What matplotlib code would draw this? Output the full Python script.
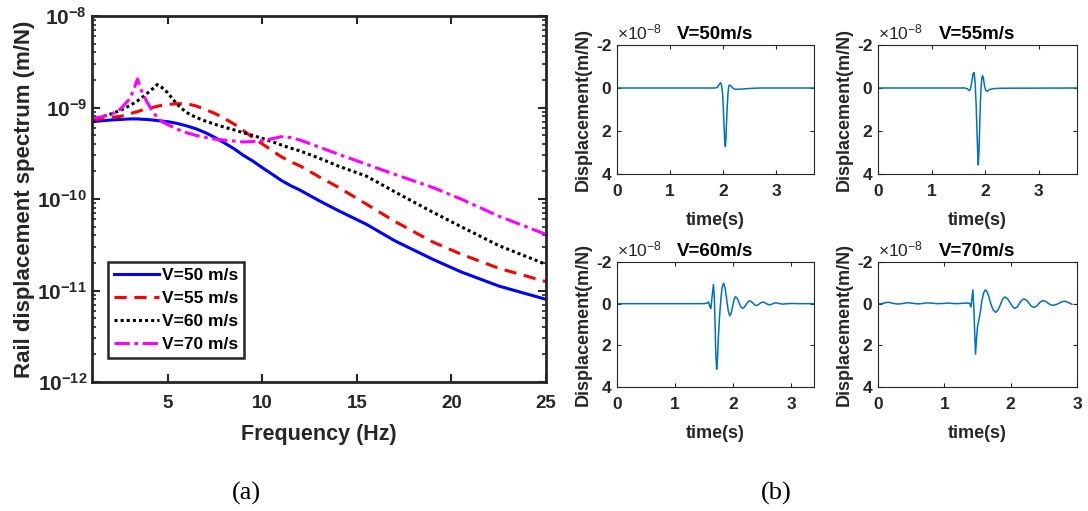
import matplotlib.pyplot as plt
import numpy as np

plt.rcParams['font.family'] = 'Liberation Sans'
plt.rcParams['mathtext.fontset'] = 'custom'
plt.rcParams['mathtext.rm'] = 'Liberation Sans'
plt.rcParams['mathtext.bf'] = 'Liberation Sans:bold'
plt.rcParams['mathtext.it'] = 'Liberation Sans:italic'

# (a) rail displacement spectrum, values in 1e-10 m/N
freq = [1, 1.5, 2, 2.5, 3, 3.2, 3.4, 3.6, 3.9, 4.2, 4.45, 4.7, 5, 5.5, 6, 6.5, 7, 7.5,
        8, 8.5, 9, 9.5, 10, 10.5, 11, 11.5, 12, 13, 14, 15.5, 17, 19, 20.5, 22.5, 25]
spec50 = [7.0, 7.15, 7.3, 7.4, 7.5, 7.5, 7.5, 7.45, 7.4, 7.3, 7.2, 7.1, 7.0, 6.7, 6.3,
          5.85, 5.3, 4.7, 4.1, 3.55, 3.0, 2.6, 2.2, 1.88, 1.6, 1.4, 1.25, 0.96, 0.75,
          0.53, 0.35, 0.22, 0.16, 0.112, 0.08]
spec55 = [7.3, 7.5, 7.8, 8.0, 8.5, 8.8, 9.0, 9.3, 9.7, 10.0, 10.3, 10.6, 10.8, 11.0,
          11.0, 10.4, 9.5, 8.6, 7.6, 6.6, 5.6, 4.7, 4.0, 3.4, 2.9, 2.55, 2.3, 1.75, 1.35,
          0.88, 0.57, 0.34, 0.25, 0.175, 0.125]
spec60 = [7.3, 7.9, 8.5, 9.3, 10.5, 11.1, 11.8, 12.6, 14.2, 16.0, 17.8, 16.5, 14.5, 10.8,
          8.8, 7.8, 7.1, 6.55, 6.1, 5.7, 5.3, 4.95, 4.6, 4.25, 3.9, 3.6, 3.35, 2.8, 2.3,
          1.78, 1.2, 0.72, 0.5, 0.31, 0.193]
spec70 = [7.6, 7.9, 8.4, 9.6, 12.5, 15.5, 20.5, 15.5, 11.5, 9.0, 7.8, 7.0, 6.5, 5.8, 5.3,
          4.95, 4.7, 4.5, 4.4, 4.3, 4.2, 4.25, 4.35, 4.55, 4.8, 4.7, 4.4, 3.7, 3.1, 2.4,
          1.86, 1.34, 1.0, 0.65, 0.41]
specLabels = ['V=50 m/s', 'V=55 m/s', 'V=60 m/s', 'V=70 m/s']

# (b) time histories, displacement in 1e-8 m/N
t50 = [0, 1.85, 1.89, 1.92, 1.95, 1.97, 1.99, 2.005, 2.02, 2.03, 2.04, 2.05, 2.06, 2.075,
       2.09, 2.105, 2.12, 2.14, 2.17, 2.21, 2.26, 2.35, 2.5, 2.7, 3.71]
d50 = [0, 0, -0.03, -0.15, -0.25, -0.12, 0.3, 1.1, 2.0, 2.5, 2.72, 2.45, 1.8, 0.9,
       0.25, -0.08, -0.14, -0.1, -0.02, 0.05, 0.06, 0.05, 0.02, 0, 0]
t55 = [0, 1.62, 1.67, 1.70, 1.725, 1.75, 1.77, 1.79, 1.81, 1.83, 1.845, 1.86, 1.87, 1.88,
       1.895, 1.91, 1.925, 1.94, 1.95, 1.965, 1.985, 2.01, 2.04, 2.08, 2.15, 2.3, 3.71]
d55 = [0, 0, 0.04, 0.12, 0.05, -0.3, -0.65, -0.72, -0.3, 0.8, 2.0, 3.1, 3.58, 3.1,
       1.9, 0.6, -0.2, -0.52, -0.57, -0.45, -0.1, 0.12, 0.15, 0.07, 0.03, 0.01, 0]
t60 = [0, 1.50, 1.55, 1.575, 1.60, 1.615, 1.635, 1.66, 1.675, 1.69, 1.70, 1.715, 1.73,
       1.745, 1.765, 1.79, 1.81, 1.835, 1.86, 1.8875, 1.915, 1.94, 1.965, 1.99, 2.015,
       2.04, 2.07, 2.10, 2.13, 2.16, 2.19, 2.22, 2.25, 2.28, 2.31, 2.34, 2.37, 2.40,
       2.43, 2.455, 2.48, 2.51, 2.54, 2.57, 2.60, 2.63, 2.66, 2.685, 2.71, 2.74, 2.80,
       2.86, 2.93, 3.0, 3.1, 3.39]
d60 = [0, 0, -0.03, -0.08, 0.15, 0.23, -0.3, -0.92, -0.3, 1.2, 2.4, 3.15, 2.6,
       1.6, 0.6, -0.3, -0.8, -0.98, -0.75, -0.2, 0.35, 0.58, 0.45, 0.12, -0.2,
       -0.34, -0.25, -0.05, 0.15, 0.23, 0.17, 0.05, -0.08, -0.14, -0.1, -0.02, 0.06, 0.09,
       0.05, 0, -0.05, -0.08, -0.05, 0, 0.04, 0.05, 0.03, 0, -0.03, -0.04, 0,
       0.02, 0, -0.01, 0, 0]
t70 = [0, 0.08, 0.15, 0.22, 0.3, 0.38, 0.45, 0.52, 0.6, 0.68, 0.75, 0.82, 0.9, 0.98,
       1.05, 1.12, 1.2, 1.28, 1.36, 1.385, 1.40, 1.415, 1.43, 1.445, 1.46, 1.47, 1.485,
       1.50, 1.525, 1.545, 1.565, 1.59, 1.615, 1.64, 1.67, 1.70, 1.735, 1.775, 1.81,
       1.845, 1.875, 1.91, 1.95, 1.99, 2.03, 2.065, 2.10, 2.13, 2.165, 2.20, 2.24, 2.275,
       2.31, 2.35, 2.385, 2.42, 2.455, 2.49, 2.53, 2.565, 2.60, 2.64, 2.68, 2.73, 2.77,
       2.815, 2.86, 2.925]
d70 = [0.02, -0.02, -0.07, -0.02, 0.02, -0.01, -0.05, -0.02, 0.01, -0.01, -0.04, -0.02,
       0.0, -0.01, -0.03, -0.01, 0.0, -0.02, -0.03, 0.0, 0.15, -0.2, -0.66, 0.2, 1.6,
       2.42, 1.7, 1.1, 0.72, 0.35, -0.12, -0.5, -0.66, -0.6, -0.35, 0.0, 0.3, 0.42, 0.3,
       0.05, -0.2, -0.32, -0.25, -0.05, 0.15, 0.23, 0.16, 0.0, -0.16, -0.23, -0.16, -0.03,
       0.12, 0.18, 0.13, 0.02, -0.1, -0.15, -0.1, -0.02, 0.05, 0.08, 0.05, -0.02, -0.09,
       -0.12, -0.07, 0.03]
timeTitles = ['V=50m/s', 'V=55m/s', 'V=60m/s', 'V=70m/s']
timeMax = [3.71, 3.71, 3.39, 3.0]

gray = '#262626'
W, H = 1088, 511

def pxAxes(fig, x0, y0, x1, y1):
    return fig.add_axes([x0 / W, 1 - y1 / H, (x1 - x0) / W, (y1 - y0) / H])

fig = plt.figure(figsize=(W / 100, H / 100), dpi=100)

# Left panel
ax = pxAxes(fig, 92, 16, 546, 382)
specs = [spec50, spec55, spec60, spec70]
colors = ['#0000ff', '#ff0000', 'black', '#ff00ff']
styles = ['-', (0, (4, 2.5)), (0, (1, 1)), (0, (5, 1.5, 1.2, 1.5))]
for k in range(4):
    ax.plot(freq, np.array(specs[k]) * 1e-10, color=colors[k], lw=2.2, ls=styles[k],
            label=specLabels[k])
ax.set_yscale('log')
ax.set_xlim(1, 25)
ax.set_ylim(1e-12, 1e-8)
ax.set_xticks([5, 10, 15, 20, 25])
ax.set_xticklabels(['5', '10', '15', '20', '25'], fontsize=13.5, fontweight='bold', color=gray)
ax.set_yticks([1e-12, 1e-11, 1e-10, 1e-9, 1e-8])
ax.set_yticklabels([r'$\mathbf{10^{-12}}$', r'$\mathbf{10^{-11}}$', r'$\mathbf{10^{-10}}$',
                    r'$\mathbf{10^{-9}}$', r'$\mathbf{10^{-8}}$'], fontsize=15, color=gray)
ax.yaxis.set_minor_formatter(plt.NullFormatter())
ax.tick_params(which='both', direction='in', top=True, right=True, colors=gray)
ax.tick_params(which='major', length=6, width=1.5)
ax.tick_params(axis='x', which='major', pad=9)
ax.tick_params(which='minor', length=3, width=1.2)
for s in ax.spines.values():
    s.set_linewidth(2)
    s.set_color(gray)
ax.set_xlabel('Frequency (Hz)', fontsize=15.5, fontweight='bold', color=gray, labelpad=9)
ax.set_ylabel('Rail displacement spectrum (m/N)', fontsize=16, fontweight='bold', color=gray,
              labelpad=2)
leg = ax.legend(loc='lower left', bbox_to_anchor=(0.035, 0.065), prop={'weight': 'bold', 'size': 12.5},
                handlelength=2.6, handletextpad=0.15, borderpad=0.35, labelspacing=0.45,
                fancybox=False, framealpha=1, borderaxespad=0)
leg.get_frame().set_edgecolor(gray)
leg.get_frame().set_linewidth(1.8)

# Right panels
boxes = [(617, 45, 814, 174), (878, 45, 1077, 174), (617, 262, 814, 387), (878, 262, 1077, 387)]
series = [(t50, d50), (t55, d55), (t60, d60), (t70, d70)]
for i in range(4):
    a = pxAxes(fig, *boxes[i])
    a.plot(series[i][0], series[i][1], color='#0072BD', lw=1.1)
    a.set_xlim(0, timeMax[i])
    a.set_ylim(4, -2)
    a.set_yticks([-2, 0, 2, 4])
    a.set_yticklabels(['-2', '0', '2', '4'], fontsize=12.5, fontweight='bold', color=gray)
    a.set_xticks([0, 1, 2, 3])
    a.set_xticklabels(['0', '1', '2', '3'], fontsize=12.5, fontweight='bold', color=gray)
    a.tick_params(direction='in', top=True, right=True, length=3, width=0.8, colors=gray, pad=4)
    a.tick_params(axis='x', pad=7.5)
    for s in a.spines.values():
        s.set_linewidth(0.8)
        s.set_color(gray)
    a.set_title(timeTitles[i], fontsize=13.5, fontweight='bold', pad=4)
    a.set_xlabel('time(s)', fontsize=13, fontweight='bold', color=gray, labelpad=9)
    a.set_ylabel('Displacement(m/N)', fontsize=13, fontweight='bold', color=gray, labelpad=3)
    a.text(0.0, 1.02, r'$\times10^{-8}$', transform=a.transAxes, fontsize=12.5, color=gray,
           ha='left', va='bottom')

fig.text(246 / W, 1 - 493 / H, '(a)', family='Liberation Serif', fontsize=19, ha='center', va='center')
fig.text(776 / W, 1 - 493 / H, '(b)', family='Liberation Serif', fontsize=19, ha='center', va='center')

fig.savefig('out.png', dpi=100)
